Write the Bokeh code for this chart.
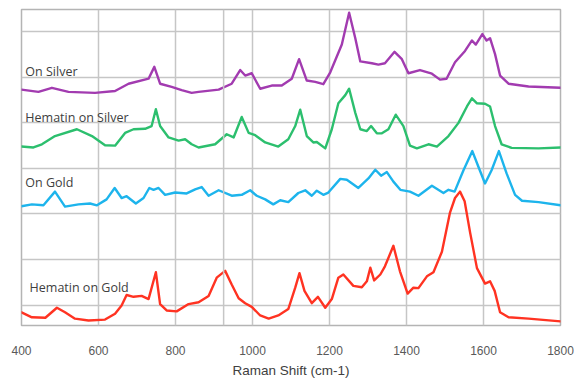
from bokeh.plotting import figure
from bokeh.models import Range1d, FixedTicker, Span, Label
from bokeh.embed import file_html
from bokeh.resources import INLINE

# Raman shift (cm-1) and offset intensity for each spectrum
silver_x = [400, 444, 479, 522, 591, 643, 678, 730, 745, 760, 790, 816, 842, 860, 912, 946, 968, 981,
            998, 1020, 1050, 1076, 1102, 1121, 1141, 1163, 1184, 1202, 1232, 1251, 1267, 1280, 1310,
            1327, 1344, 1369, 1388, 1405, 1435, 1466, 1487, 1504, 1526, 1552, 1570, 1580, 1597, 1608,
            1617, 1630, 1643, 1665, 1717, 1800]
silver_y = [4.73, 4.68, 4.77, 4.68, 4.66, 4.70, 4.86, 4.97, 5.23, 4.86, 4.79, 4.72, 4.66, 4.68, 4.73,
            4.86, 5.16, 5.04, 5.09, 4.75, 4.82, 4.82, 4.97, 5.40, 4.93, 4.90, 4.85, 5.11, 5.72, 6.42,
            5.86, 5.35, 5.31, 5.28, 5.31, 5.56, 5.40, 5.09, 5.16, 5.08, 4.95, 4.97, 5.33, 5.58, 5.81,
            5.72, 5.95, 5.81, 5.86, 5.51, 5.04, 4.86, 4.80, 4.77]

hem_silver_x = [400, 431, 453, 487, 544, 583, 617, 643, 669, 691, 721, 738, 749, 760, 782, 808, 825,
                842, 860, 903, 933, 951, 972, 990, 1007, 1033, 1067, 1093, 1111, 1124, 1141, 1158,
                1167, 1189, 1206, 1223, 1241, 1251, 1267, 1280, 1297, 1308, 1323, 1336, 1353, 1372,
                1392, 1409, 1427, 1457, 1479, 1509, 1535, 1557, 1570, 1583, 1604, 1617, 1630, 1647,
                1673, 1743, 1800]
hem_silver_y = [3.48, 3.46, 3.53, 3.71, 3.86, 3.71, 3.51, 3.50, 3.78, 3.86, 3.87, 3.93, 4.30, 3.93,
                3.68, 3.61, 3.64, 3.53, 3.46, 3.53, 3.75, 3.68, 4.13, 3.78, 3.73, 3.57, 3.48, 3.64,
                3.93, 4.29, 3.71, 3.57, 3.58, 3.44, 3.86, 4.43, 4.61, 4.75, 4.22, 3.86, 3.82, 3.93,
                3.77, 3.77, 3.86, 4.18, 3.93, 3.50, 3.44, 3.53, 3.48, 3.71, 4.00, 4.36, 4.54, 4.43,
                4.42, 4.36, 3.93, 3.53, 3.45, 3.44, 3.46]

gold_x = [400, 427, 457, 487, 513, 548, 578, 596, 621, 642, 660, 673, 697, 717, 732, 743, 756, 773,
          799, 829, 851, 868, 886, 912, 946, 972, 994, 1011, 1033, 1054, 1072, 1093, 1119, 1137, 1154,
          1167, 1184, 1197, 1228, 1245, 1275, 1301, 1319, 1334, 1349, 1366, 1384, 1409, 1431, 1466,
          1496, 1509, 1525, 1548, 1571, 1587, 1604, 1621, 1640, 1660, 1682, 1700, 1743, 1800]
gold_y = [2.17, 2.21, 2.19, 2.49, 2.16, 2.21, 2.23, 2.19, 2.32, 2.57, 2.35, 2.39, 2.23, 2.35, 2.57,
          2.53, 2.57, 2.42, 2.47, 2.45, 2.54, 2.59, 2.40, 2.52, 2.40, 2.42, 2.52, 2.40, 2.32, 2.21,
          2.30, 2.26, 2.46, 2.52, 2.40, 2.51, 2.42, 2.47, 2.77, 2.75, 2.57, 2.78, 2.97, 2.84, 2.92,
          2.71, 2.53, 2.49, 2.40, 2.62, 2.46, 2.53, 2.49, 2.96, 3.38, 3.03, 2.67, 2.96, 3.38, 2.89,
          2.42, 2.29, 2.26, 2.19]

hem_gold_x = [400, 427, 462, 492, 513, 539, 574, 617, 643, 660, 673, 691, 712, 730, 749, 760, 777,
              803, 834, 860, 886, 907, 929, 946, 964, 981, 998, 1020, 1042, 1067, 1093, 1111, 1122,
              1135, 1154, 1170, 1189, 1206, 1223, 1236, 1262, 1284, 1297, 1306, 1316, 1332, 1344,
              1366, 1383, 1403, 1418, 1431, 1453, 1470, 1492, 1513, 1526, 1539, 1551, 1565, 1583,
              1604, 1617, 1629, 1643, 1665, 1717, 1800]
hem_gold_y = [-0.16, -0.27, -0.28, -0.06, -0.16, -0.30, -0.34, -0.32, -0.19, -0.01, 0.22, 0.18, 0.20,
              0.13, 0.72, 0.02, -0.12, -0.14, 0.02, 0.06, 0.20, 0.60, 0.75, 0.45, 0.15, 0.04, -0.04,
              -0.23, -0.30, -0.23, -0.09, 0.38, 0.70, 0.31, 0.04, 0.18, -0.06, 0.13, 0.60, 0.67, 0.42,
              0.39, 0.52, 0.82, 0.54, 0.67, 0.85, 1.30, 0.74, 0.25, 0.38, 0.37, 0.63, 0.72, 1.17, 2.03,
              2.35, 2.49, 2.28, 1.60, 0.81, 0.47, 0.52, 0.31, -0.16, -0.27, -0.30, -0.36]

series_names = ["On Silver", "Hematin on Silver", "On Gold", "Hematin on Gold"]
x_ticks = [400, 600, 800, 1000, 1200, 1400, 1600, 1800]
y_grid = [0, 1, 2, 3, 4, 5, 6]

p = figure(width=574, height=380, output_backend="svg", toolbar_location=None,
           x_range=Range1d(400, 1800), y_range=Range1d(-0.45, 6.49),
           min_border_left=21, min_border_right=14, min_border_top=9, min_border_bottom=48)

grid_col = "#c6c6c6"
p.outline_line_color = "#b4b4b4"
p.outline_line_width = 1.5
p.background_fill_color = "white"
p.border_fill_color = "white"

p.xaxis.ticker = FixedTicker(ticks=x_ticks)
p.xgrid.ticker = FixedTicker(ticks=x_ticks)
p.ygrid.ticker = FixedTicker(ticks=y_grid)
p.xgrid.grid_line_color = grid_col
p.ygrid.grid_line_color = grid_col
p.xgrid.grid_line_width = 1.5
p.ygrid.grid_line_width = 1.5
p.yaxis.visible = False

p.xaxis.axis_line_color = None
p.xaxis.major_tick_line_color = None
p.xaxis.minor_tick_line_color = None
p.xaxis.major_label_standoff = 14
p.xaxis.major_label_text_font = "Liberation Sans"
p.xaxis.major_label_text_font_size = "12px"
p.xaxis.major_label_text_color = "#595959"
p.xaxis.axis_label = "Raman Shift (cm-1)"
p.xaxis.axis_label_text_font = "Liberation Sans"
p.xaxis.axis_label_text_font_size = "13.5px"
p.xaxis.axis_label_text_font_style = "normal"
p.xaxis.axis_label_text_color = "#404040"
p.xaxis.axis_label_standoff = 5

p.add_layout(Span(location=925, dimension="height", line_color=grid_col, line_width=1.5))

colors = ["#a23bb0", "#2cbf6e", "#1db4ec", "#ff3322"]
data = [(silver_x, silver_y), (hem_silver_x, hem_silver_y), (gold_x, gold_y), (hem_gold_x, hem_gold_y)]
for (xs, ys), c in zip(data, colors):
    p.line(xs, ys, line_color=c, line_width=2.4, line_join="round", line_cap="round")

label_pos = [(410, 5.12), (410, 4.11), (410, 2.69), (421, 0.39)]
for name, (lx, ly) in zip(series_names, label_pos):
    p.add_layout(Label(x=lx, y=ly, text=name, text_font="Open Sans", text_font_size="12.5px",
                       text_color="#404040", text_baseline="middle", text_align="left"))

open("out.html", "w").write(file_html(p, INLINE))
